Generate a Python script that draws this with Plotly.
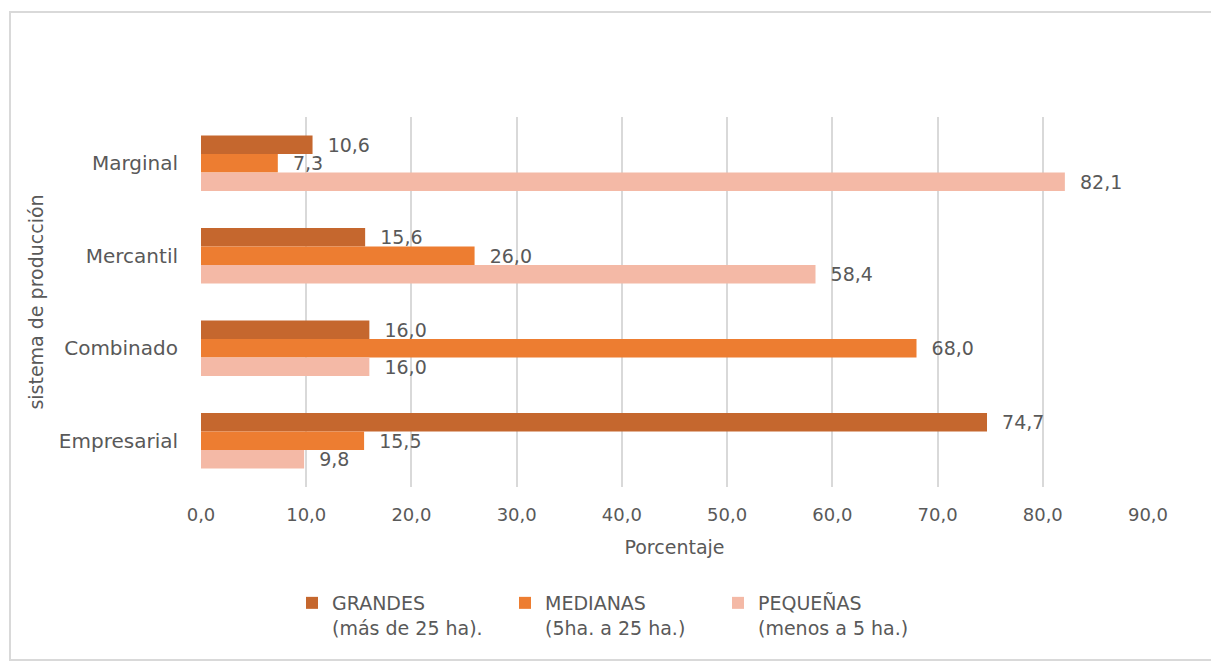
import plotly.graph_objects as go

categories = ["Marginal", "Mercantil", "Combinado", "Empresarial"]
grandes = [10.6, 15.6, 16.0, 74.7]
medianas = [7.3, 26.0, 68.0, 15.5]
pequenas = [82.1, 58.4, 16.0, 9.8]
series_names = ["GRANDES<br>(más de 25 ha).", "MEDIANAS<br>(5ha. a 25 ha.)", "PEQUEÑAS<br>(menos a 5 ha.)"]
colors = ["#C5672E", "#ED7D31", "#F4B9A6"]
x_ticks = [0, 10, 20, 30, 40, 50, 60, 70, 80, 90]

W, H = 1211, 661
L, R, T, B = 201, W - 1148, 117, H - 487
pw, ph = W - L - R, H - T - B

FONT = "DejaVu Sans"
GRAY = "#595959"

fig = go.Figure()
for name, vals, col in zip(series_names, [grandes, medianas, pequenas], colors):
    fig.add_trace(go.Bar(
        y=categories, x=vals, name=name, orientation="h",
        marker=dict(color=col, line=dict(width=0)),
        text=vals, texttemplate="  %{x:.1f}", textposition="outside",
        constraintext="none", cliponaxis=False,
        textfont=dict(family=FONT, size=19, color=GRAY),
    ))

def px2x(px):
    return (px - L) / pw

def py2y(py):
    return (H - B - py) / ph

fig.add_shape(type="rect", xref="paper", yref="paper",
              x0=px2x(10), x1=px2x(1230), y0=py2y(660), y1=py2y(12),
              line=dict(color="#D9D9D9", width=2), fillcolor="rgba(0,0,0,0)", layer="below")

fig.update_layout(
    width=W, height=H,
    margin=dict(l=L, r=R, t=T, b=B),
    paper_bgcolor="white", plot_bgcolor="white",
    barmode="group", bargap=0.4, bargroupgap=0,
    separators=",.",
    font=dict(family=FONT, color=GRAY, size=19),
    xaxis=dict(range=[0, 90], tickvals=x_ticks, tickformat=".1f",
               showgrid=True, gridcolor="#D9D9D9", gridwidth=1.5,
               zeroline=False, showline=False, ticks="",
               ticklabelstandoff=15,
               tickfont=dict(family=FONT, size=18, color=GRAY),
               title=dict(text="Porcentaje", standoff=16,
                          font=dict(family=FONT, size=19, color=GRAY))),
    yaxis=dict(autorange="reversed", showgrid=False, showline=False, ticks="",
               ticklabelstandoff=22,
               tickfont=dict(family=FONT, size=20, color=GRAY),
               title=dict(text="sistema de producción", standoff=10,
                          font=dict(family=FONT, size=19, color=GRAY))),
    legend=dict(orientation="h", x=px2x(292), xanchor="left", y=py2y(584), yanchor="top",
                valign="top", entrywidth=168, itemwidth=30,
                font=dict(family=FONT, size=19, color=GRAY),
                bgcolor="rgba(0,0,0,0)"),
    showlegend=True,
)

fig.write_html("out.html")
